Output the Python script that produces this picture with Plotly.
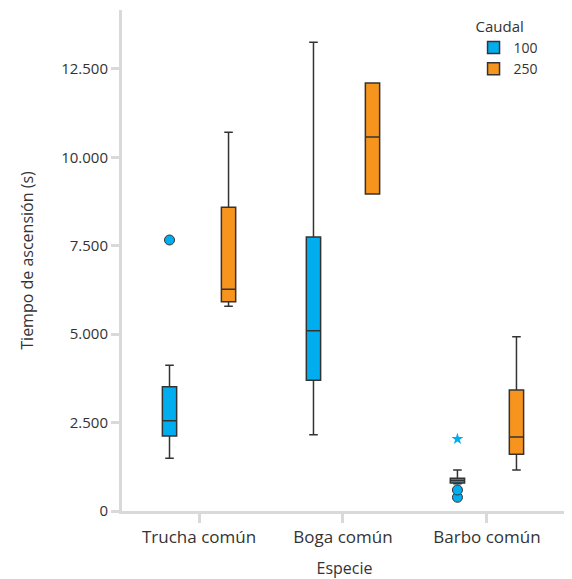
import plotly.graph_objects as go

categories = ["Trucha común", "Boga común", "Barbo común"]

# Caudal 100
q1_100 = [2121, 3696, 792]
med_100 = [2554, 5099, 862]
q3_100 = [3515, 7749, 925]
lo_100 = [1490, 2158, 770]
hi_100 = [4120, 13254, 1160]
outliers_100 = [[7664], [], [594, 387]]
extreme_cat_100 = ["Barbo común"]
extreme_val_100 = [2036]

# Caudal 250
q1_250 = [5920, 8965, 1603]
med_250 = [6270, 10577, 2093]
q3_250 = [8589, 12104, 3422]
lo_250 = [5790, 8965, 1160]
hi_250 = [10710, 12104, 4930]

BLUE = "#00AEEF"
ORANGE = "#F7941D"
LINE = "#333333"
AXIS = "#d9d9d9"
TXT = "#333333"
FONT = "Open Sans"

fig = go.Figure()

fig.add_trace(go.Box(
    name="100", x=categories, y=outliers_100,
    q1=q1_100, median=med_100, q3=q3_100,
    lowerfence=lo_100, upperfence=hi_100,
    boxpoints="outliers", pointpos=0, jitter=0,
    fillcolor=BLUE, line=dict(color=LINE, width=1.5),
    marker=dict(color=BLUE, size=10, line=dict(color=LINE, width=1)),
    whiskerwidth=0.6, offsetgroup="100",
))
fig.add_trace(go.Box(
    name="100", x=extreme_cat_100, y=extreme_val_100,
    boxpoints="all", pointpos=0, jitter=0,
    fillcolor="rgba(0,0,0,0)", line=dict(color="rgba(0,0,0,0)", width=0),
    marker=dict(color=BLUE, size=9, symbol="star", line=dict(width=0)),
    offsetgroup="100", showlegend=False, hoverinfo="y",
))
fig.add_trace(go.Box(
    name="250", x=categories,
    q1=q1_250, median=med_250, q3=q3_250,
    lowerfence=lo_250, upperfence=hi_250,
    boxpoints=False,
    fillcolor=ORANGE, line=dict(color=LINE, width=1.5),
    whiskerwidth=0.6, offsetgroup="250",
))

# page body has an 8px margin, so the figure is 8px smaller than the window
fig.update_layout(
    width=564, height=571,
    margin=dict(l=114, r=5, t=2, b=68),
    paper_bgcolor="white", plot_bgcolor="white",
    boxmode="group", boxgap=0.18, boxgroupgap=0.758,
    separators=",.",
    font=dict(family=FONT, color=TXT, size=14),
    showlegend=True,
    legend=dict(
        title=dict(text="Caudal", font=dict(size=15, color=TXT)),
        x=0.79, y=0.995, xanchor="left", yanchor="top",
        font=dict(size=14, color=TXT), tracegroupgap=0,
        bgcolor="rgba(0,0,0,0)",
    ),
    xaxis=dict(
        type="category", categoryorder="array", categoryarray=categories,
        range=[-0.535, 2.556], automargin=False,
        showline=True, linecolor=AXIS, linewidth=3,
        ticks="outside", ticklen=9, tickwidth=3, tickcolor=AXIS,
        showgrid=False, zeroline=False,
        tickfont=dict(size=17, color=TXT),
        title=dict(text="Especie", font=dict(size=16, color=TXT), standoff=19),
    ),
    yaxis=dict(
        range=[0, 14168], automargin=False,
        tickvals=[0, 2500, 5000, 7500, 10000, 12500],
        tickformat=",d",
        showline=True, linecolor=AXIS, linewidth=3,
        ticks="outside", ticklen=8, tickwidth=3, tickcolor=AXIS,
        showgrid=False, zeroline=False,
        tickfont=dict(size=15, color=TXT),
        title=dict(text="Tiempo de ascensión (s)", font=dict(size=16, color=TXT), standoff=24),
    ),
)

fig.write_html("out.html")
